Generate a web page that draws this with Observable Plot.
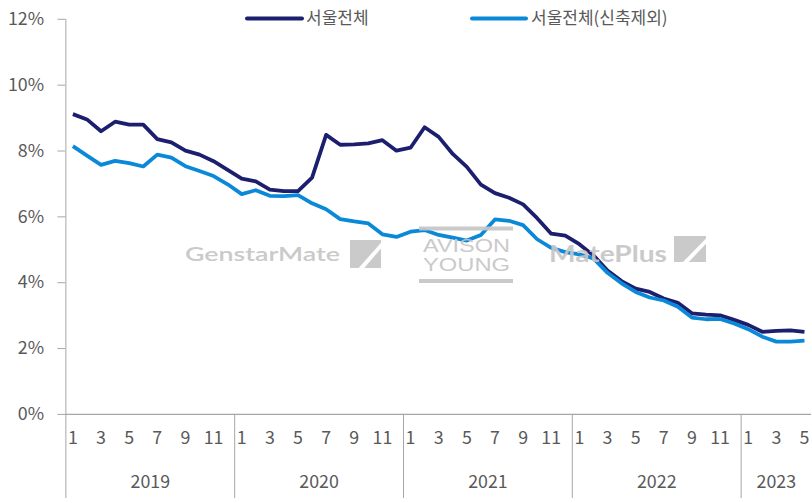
<!DOCTYPE html>
<html>
<head>
<meta charset="utf-8">
<script src="https://cdn.jsdelivr.net/npm/d3@7"></script>
<script src="https://cdn.jsdelivr.net/npm/@observablehq/plot@0.6"></script>
<style>
  html, body { margin: 0; padding: 0; background: #fff; }
  #wrap { position: relative; width: 812px; height: 503px; overflow: hidden; background: #fff; }
  #wrap svg.plot, #wrap > svg { position: absolute; left: 0; top: 0; }
  g[aria-label="y-axis tick"] { stroke: #a6a6a6; }
  #overlay { pointer-events: none; }
</style>
</head>
<body>
<div id="wrap"></div>
<script>
// ---- data ----
const years = ["2019", "2020", "2021", "2022", "2023"];
const monthsInYear = [12, 12, 12, 12, 5];
const monthTickLabels = ["1", "3", "5", "7", "9", "11"];
const yTicks = [0, 2, 4, 6, 8, 10, 12];
const seriesNames = ["서울전체", "서울전체(신축제외)"];
const seriesColors = ["#1c1f6d", "#0b89d9"];

const seoulAll = [
  9.12, 8.96, 8.60, 8.89, 8.80, 8.80, 8.36, 8.26, 8.01, 7.89, 7.69, 7.43,
  7.16, 7.08, 6.83, 6.78, 6.78, 7.19, 8.49, 8.19, 8.20, 8.23, 8.33, 8.01,
  8.10, 8.72, 8.43, 7.91, 7.52, 6.98, 6.72, 6.58, 6.38, 5.96, 5.49, 5.43,
  5.17, 4.83, 4.37, 4.05, 3.82, 3.72, 3.52, 3.39, 3.07, 3.03, 3.01, 2.87,
  2.72, 2.51, 2.54, 2.55, 2.51
];
const seoulExNew = [
  8.15, 7.86, 7.58, 7.70, 7.63, 7.53, 7.89, 7.80, 7.54, 7.39, 7.24, 6.99,
  6.69, 6.81, 6.64, 6.63, 6.66, 6.41, 6.23, 5.93, 5.86, 5.80, 5.47, 5.39,
  5.55, 5.60, 5.45, 5.37, 5.28, 5.45, 5.92, 5.88, 5.75, 5.32, 5.06, 4.93,
  4.86, 4.74, 4.30, 3.98, 3.72, 3.55, 3.46, 3.27, 2.94, 2.89, 2.90, 2.76,
  2.59, 2.36, 2.21, 2.21, 2.24
];

// ---- build tables ----
const periods = [];
const yearBlocks = [];
years.forEach((y, yi) => {
  const start = periods.length;
  for (let m = 1; m <= monthsInYear[yi]; m++) periods.push({year: y, month: String(m)});
  yearBlocks.push({year: y, start, end: periods.length - 1});
});
const rows = [];
periods.forEach((p, i) => {
  rows.push({i, v: seoulAll[i], s: seriesNames[0]});
  rows.push({i, v: seoulExNew[i], s: seriesNames[1]});
});
const monthTicks = periods.map((p, i) => ({i, label: p.month})).filter(d => monthTickLabels.includes(d.label));
const yearLabels = yearBlocks.map(b => ({x: (b.start + b.end) / 2, year: b.year}));
const separators = yearBlocks.map((b, k) => ({x: b.start - 0.5, y1: k === 0 ? 12 : 0}));
const yBottom = -2.6;
const gridColor = "#a6a6a6";
const textColor = "#595959";

const chart = Plot.plot({
  width: 820,
  height: 503,
  marginLeft: 66,
  marginRight: 1,
  marginTop: 19,
  marginBottom: 85,
  x: {domain: [-0.5, periods.length - 0.5], axis: null},
  y: {domain: [0, 12], axis: null},
  color: {domain: seriesNames, range: seriesColors},
  style: {fontFamily: "'Noto Sans CJK KR', 'Noto Sans', sans-serif", fontSize: "18px", color: textColor, background: "white"},
  marks: [
    Plot.ruleX(separators, {x: "x", y1: "y1", y2: yBottom, stroke: gridColor, strokeWidth: 1}),
    Plot.ruleY([0], {stroke: gridColor, strokeWidth: 1.2}),
    Plot.axisY({ticks: yTicks, tickSize: 8, tickPadding: 14, tickFormat: d => d + "%", label: null, fill: textColor}),
    Plot.text(monthTicks, {x: "i", text: "label", frameAnchor: "bottom", dy: 30, fill: textColor, fontSize: 18}),
    Plot.text(yearLabels, {x: "x", text: "year", frameAnchor: "bottom", dy: 74, fill: textColor, fontSize: 18}),
    Plot.line(rows, {x: "i", y: "v", z: "s", stroke: "s", strokeWidth: 3.8, strokeLinejoin: "round", strokeLinecap: "butt"})
  ]
});
document.getElementById("wrap").appendChild(chart);

// ---- overlay: legend + watermarks ----
const ov = d3.select("#wrap").append("svg")
  .attr("id", "overlay").attr("width", 812).attr("height", 503)
  .style("position", "absolute").style("left", "0px").style("top", "0px");

// legend
const legendItems = [
  {name: seriesNames[0], color: seriesColors[0], x0: 247, x1: 302, tx: 306},
  {name: seriesNames[1], color: seriesColors[1], x0: 472, x1: 526, tx: 531}
];
legendItems.forEach(d => {
  ov.append("line").attr("x1", d.x0).attr("x2", d.x1).attr("y1", 18.5).attr("y2", 18.5)
    .attr("stroke", d.color).attr("stroke-width", 4).attr("stroke-linecap", "round");
  ov.append("text").attr("x", d.tx).attr("y", 18.5).attr("dy", "0.35em")
    .attr("fill", textColor).style("font-family", "'Noto Sans CJK KR', sans-serif").style("font-size", "17px")
    .text(d.name);
});

// watermarks
const wm = ov.append("g").attr("opacity", 0.92);
const wmColor = "#c6c6c6";
function logo(x, y, w, h) {
  wm.append("rect").attr("x", x).attr("y", y).attr("width", w).attr("height", h).attr("fill", wmColor);
  wm.append("polygon").attr("fill", "white").attr("points", [
    [x + 0.28 * w, y + h], [x + 0.46 * w, y + h], [x + w, y + 0.3 * h], [x + w, y + 0.1 * h]
  ].map(p => p.join(",")).join(" "));
}
wm.append("text").attr("x", 185).attr("y", 260.5).attr("textLength", 155).attr("lengthAdjust", "spacingAndGlyphs")
  .attr("fill", wmColor).style("font-family", "Lato, 'Liberation Sans', sans-serif").style("font-weight", "600").style("font-size", "20px")
  .text("GenstarMate");
logo(350, 240, 31, 28);

wm.append("rect").attr("x", 419).attr("y", 226.5).attr("width", 94).attr("height", 4).attr("fill", wmColor);
wm.append("rect").attr("x", 419).attr("y", 279).attr("width", 94).attr("height", 4).attr("fill", wmColor);
const av = wm.append("text").attr("fill", wmColor)
  .style("font-family", "'Liberation Sans', sans-serif").style("font-size", "19px");
av.append("tspan").attr("x", 423).attr("y", 251.7).attr("textLength", 87).attr("lengthAdjust", "spacingAndGlyphs").text("AVISON");
av.append("tspan").attr("x", 423).attr("y", 271).attr("textLength", 87).attr("lengthAdjust", "spacingAndGlyphs").text("YOUNG");

wm.append("text").attr("x", 549).attr("y", 261.7).attr("textLength", 118).attr("lengthAdjust", "spacingAndGlyphs")
  .attr("fill", wmColor).style("font-family", "Lato, 'Liberation Sans', sans-serif").style("font-weight", "700").style("font-size", "23px")
  .text("MatePlus");
logo(674, 236, 32, 26);
</script>
</body>
</html>
